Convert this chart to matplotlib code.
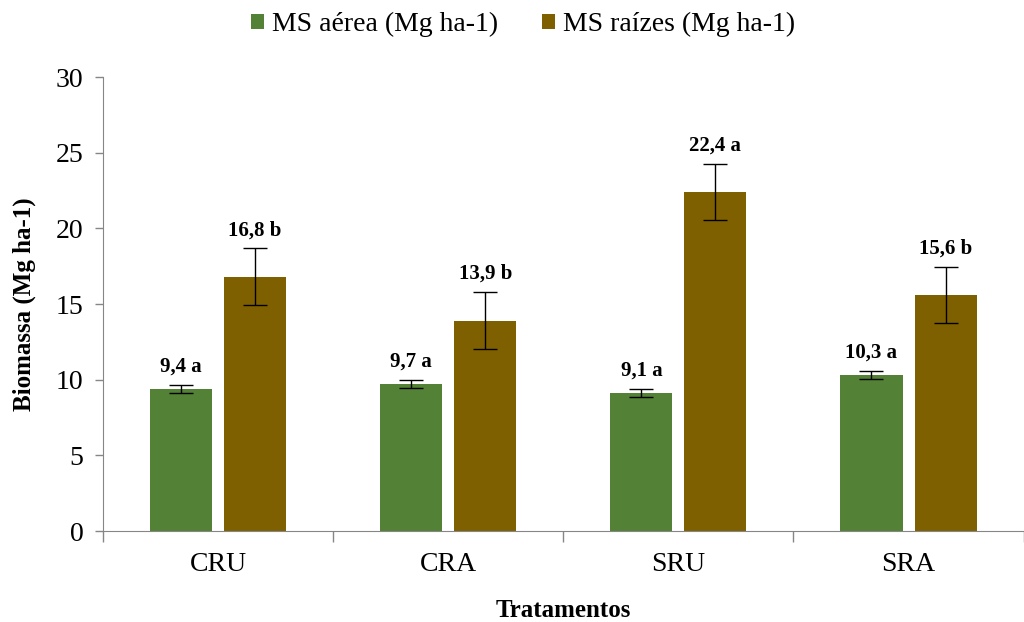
import numpy as np
import matplotlib.pyplot as plt

plt.rcParams['font.family'] = ['Liberation Serif', 'DejaVu Serif']

tratamentos = ['CRU', 'CRA', 'SRU', 'SRA']
ms_aerea = [9.4, 9.7, 9.1, 10.3]
ms_raizes = [16.8, 13.9, 22.4, 15.6]
err_aerea = [0.27, 0.28, 0.26, 0.26]
err_raizes = [1.87, 1.9, 1.88, 1.86]
rotulos_aerea = ['9,4 a', '9,7 a', '9,1 a', '10,3 a']
rotulos_raizes = ['16,8 b', '13,9 b', '22,4 a', '15,6 b']

verde = '#538135'
marrom = '#7f6000'

fig = plt.figure(figsize=(10.24, 6.22), dpi=100)
ax = fig.add_axes([0.1006, 0.1463, 0.899, 0.7299])

x = np.arange(len(tratamentos))
w = 0.27
off = 0.161
ek = dict(ecolor='black', elinewidth=1, capsize=8.5, capthick=1)
ax.bar(x - off, ms_aerea, w, color=verde, label='MS aérea (Mg ha-1)', yerr=err_aerea, error_kw=ek)
ax.bar(x + off, ms_raizes, w, color=marrom, label='MS raízes (Mg ha-1)', yerr=err_raizes, error_kw=ek)

for xi, v, e, t in zip(x - off, ms_aerea, err_aerea, rotulos_aerea):
    ax.annotate(t, (xi, v + e), xytext=(0, 6), textcoords='offset points',
                ha='center', va='bottom', fontsize=15, fontweight='bold')
for xi, v, e, t in zip(x + off, ms_raizes, err_raizes, rotulos_raizes):
    ax.annotate(t, (xi, v + e), xytext=(0, 6), textcoords='offset points',
                ha='center', va='bottom', fontsize=15, fontweight='bold')

ax.set_xlim(-0.5, 3.5)
ax.set_ylim(0, 30)
ax.set_yticks(range(0, 31, 5))
ax.tick_params(axis='y', labelsize=20, length=6, color='#868686', pad=8, width=1)
ax.set_xticks(x)
ax.set_xticklabels(tratamentos, fontsize=20)
ax.tick_params(axis='x', length=0, pad=15)
ax.set_xticks(np.arange(-0.5, 4, 1), minor=True)
ax.tick_params(axis='x', which='minor', length=8, color='#868686', width=1)

for s in ['top', 'right']:
    ax.spines[s].set_visible(False)
ax.spines['left'].set_color('#868686')
ax.spines['bottom'].set_color('#868686')

ax.set_ylabel('Biomassa (Mg ha-1)', fontsize=18, fontweight='bold', labelpad=14)
ax.set_xlabel('Tratamentos', fontsize=18, fontweight='bold', labelpad=16)

fig.legend(loc='upper center', bbox_to_anchor=(0.511, 1.021), ncol=2, frameon=False,
           fontsize=20, handlelength=0.45, handleheight=0.45, handletextpad=0.3,
           columnspacing=1.6)

fig.savefig('out.png', dpi=100)
